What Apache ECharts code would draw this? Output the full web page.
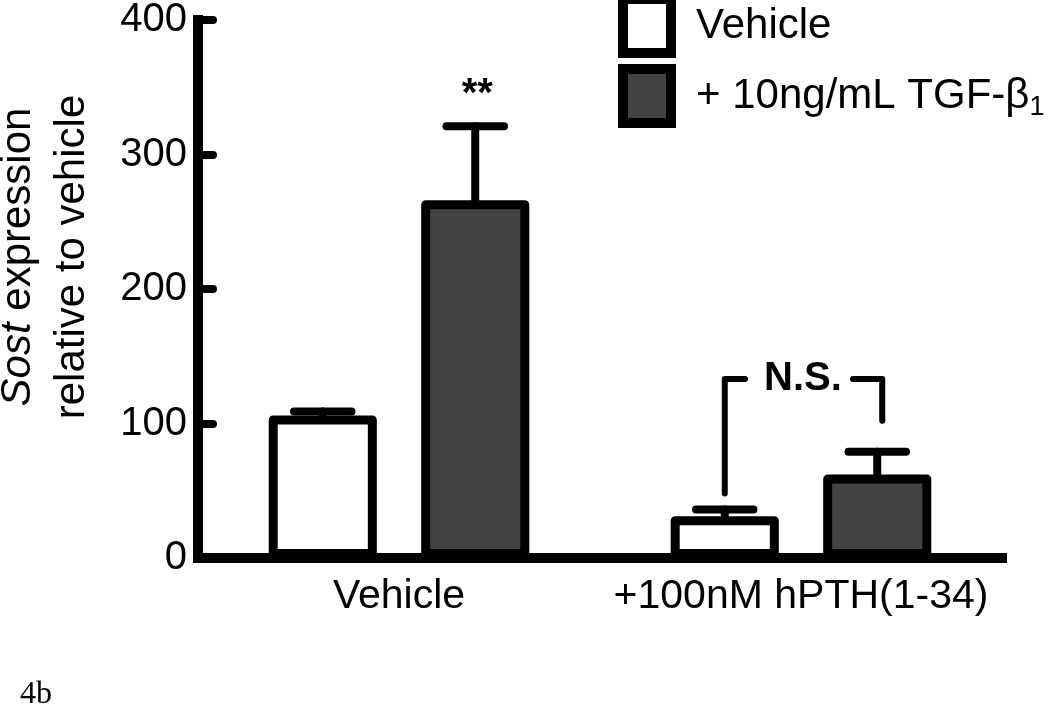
<!DOCTYPE html>
<html>
<head>
<meta charset="utf-8">
<script src="https://cdn.jsdelivr.net/npm/echarts@6/dist/echarts.min.js"></script>
<style>
html,body{margin:0;padding:0;background:#fff;}
#chart{width:1050px;height:706px;}
</style>
</head>
<body>
<div id="chart"></div>
<script>
// ---- data ----
const categories = ['Vehicle', '+100nM hPTH(1-34)'];
const seriesNames = ['Vehicle', '+ 10ng/mL TGF-β1'];
const vehicleMeans = [106, 31];
const vehicleUpper = [109, 36];
const tgfMeans = [266, 62];
const tgfUpper = [321, 79];
const tgfSignificance = ['**', ''];
const yTickValues = [0, 100, 200, 300, 400];
// N.S. bracket: [category index, left leg end, right leg end, bracket top]
const nsBracket = [1, 48, 102, 133];
const nsLabel = 'N.S.';
const panelLabel = '4b';

// ---- style constants ----
const FONT = 'Liberation Sans, Arial, sans-serif';
const BAR_W = 0.269;
const BAR_GAP = 0.41;
const OFFSET = BAR_W * (1 + BAR_GAP) / 2;
const CAP_FRAC = 0.143;

const vehicleErr = vehicleMeans.map((m, i) => [i, m, vehicleUpper[i]]);
const tgfErr = tgfMeans.map((m, i) => [i, m, tgfUpper[i]]);

function errorRender(sign, labels) {
  return function (params, api) {
    const cat = api.value(0);
    const band = api.size([1, 0])[0];
    const cx = api.coord([cat, 0])[0] + sign * band * OFFSET;
    const yMean = api.coord([cat, api.value(1)])[1];
    const yUp = api.coord([cat, api.value(2)])[1];
    const half = band * CAP_FRAC / 2;
    const st = { stroke: '#000', lineWidth: 8, lineCap: 'round' };
    const children = [
      { type: 'line', shape: { x1: cx, y1: yMean, x2: cx, y2: yUp }, style: st },
      { type: 'line', shape: { x1: cx - half, y1: yUp, x2: cx + half, y2: yUp }, style: st }
    ];
    const lab = labels ? labels[cat] : '';
    if (lab) {
      children.push({ type: 'text', x: cx + 2, y: yUp - 31,
        style: { text: lab, font: 'bold 40px ' + FONT, fill: '#000', align: 'center', verticalAlign: 'middle' } });
    }
    return { type: 'group', children: children };
  };
}

function bracketRender(params, api) {
  const cat = api.value(0);
  const band = api.size([1, 0])[0];
  const c = api.coord([cat, 0])[0];
  const xl = c - band * OFFSET;
  const xr = c + band * OFFSET + 5;
  const yL = api.coord([cat, api.value(1)])[1];
  const yR = api.coord([cat, api.value(2)])[1];
  const yT = api.coord([cat, api.value(3)])[1];
  const st = { stroke: '#000', lineWidth: 6, lineCap: 'round', lineJoin: 'round', fill: null };
  return { type: 'group', children: [
    { type: 'polyline', shape: { points: [[xl, yL], [xl, yT], [c - 56, yT]] }, style: st },
    { type: 'polyline', shape: { points: [[c + 52, yT], [xr, yT], [xr, yR]] }, style: st },
    { type: 'text', x: c + 2, y: yT, style: { text: nsLabel, font: 'bold 40px ' + FONT, fill: '#000', align: 'center', verticalAlign: 'middle' } }
  ]};
}

const chart = echarts.init(document.getElementById('chart'), null, { renderer: 'canvas' });
chart.setOption({
  animation: false,
  backgroundColor: '#fff',
  grid: { left: 198, right: 48, top: 17, bottom: 148 },
  legend: {
    orient: 'vertical', left: 618, top: -6, padding: 0,
    icon: 'rect',
    itemWidth: 48, itemHeight: 54, itemGap: 6,
    data: seriesNames,
    itemStyle: { borderColor: '#000', borderWidth: 10, borderJoin: 'miter' },
    formatter: function (name) {
      if (name === seriesNames[1]) return '{t|+ 10ng/mL TGF-β}{s|1}';
      return '{t|' + name + '}';
    },
    textStyle: {
      color: '#000', fontFamily: FONT, fontSize: 42, padding: [0, 0, 0, 20],
      rich: {
        t: { fontSize: 42, fontFamily: FONT, color: '#000', lineHeight: 50 },
        s: { fontSize: 27, fontFamily: FONT, color: '#000', lineHeight: 14, verticalAlign: 'bottom' }
      }
    }
  },
  xAxis: {
    type: 'category', data: categories,
    axisLine: { lineStyle: { color: '#000', width: 10, cap: 'square' } },
    axisTick: { show: false },
    axisLabel: { color: '#000', fontSize: 41, fontFamily: FONT, margin: 18, interval: 0 }
  },
  yAxis: {
    type: 'value', min: 0, max: 400, interval: 100,
    splitLine: { show: false },
    axisLine: { show: true, lineStyle: { color: '#000', width: 10, cap: 'square' } },
    axisTick: { show: true, inside: true, length: 15, lineStyle: { color: '#000', width: 8, cap: 'round' } },
    axisLabel: { color: '#000', fontSize: 40, fontFamily: FONT, margin: 11,
      formatter: v => yTickValues.includes(v) ? String(v) : '' }
  },
  graphic: [
    { type: 'text', x: 45, y: 257, rotation: Math.PI / 2,
      style: { text: '{i|Sost} expression\nrelative to vehicle', fontSize: 42, fontFamily: FONT, fill: '#000',
        align: 'center', verticalAlign: 'middle', lineHeight: 54,
        rich: { i: { fontStyle: 'italic', fontSize: 42, fontFamily: FONT, fill: '#000', lineHeight: 54 } } } },
    { type: 'text', left: 20, top: 679,
      style: { text: panelLabel, font: '32px Liberation Serif, Times New Roman, serif', fill: '#000' } }
  ],
  series: [
    { name: seriesNames[0], type: 'bar', data: vehicleMeans, barWidth: (BAR_W * 100) + '%', barGap: (BAR_GAP * 100) + '%',
      itemStyle: { color: '#fff', borderColor: '#000', borderWidth: 9, borderJoin: 'round' } },
    { name: seriesNames[1], type: 'bar', data: tgfMeans, barWidth: (BAR_W * 100) + '%', barGap: (BAR_GAP * 100) + '%',
      itemStyle: { color: '#434343', borderColor: '#000', borderWidth: 9, borderJoin: 'round' } },
    { type: 'custom', data: vehicleErr, renderItem: errorRender(-1, null), encode: { x: 0, y: [1, 2] }, z: 5 },
    { type: 'custom', data: tgfErr, renderItem: errorRender(1, tgfSignificance), encode: { x: 0, y: [1, 2] }, z: 5 },
    { type: 'custom', data: [nsBracket], renderItem: bracketRender, encode: { x: 0, y: [1, 2, 3] }, z: 5 }
  ]
});
</script>
</body>
</html>
